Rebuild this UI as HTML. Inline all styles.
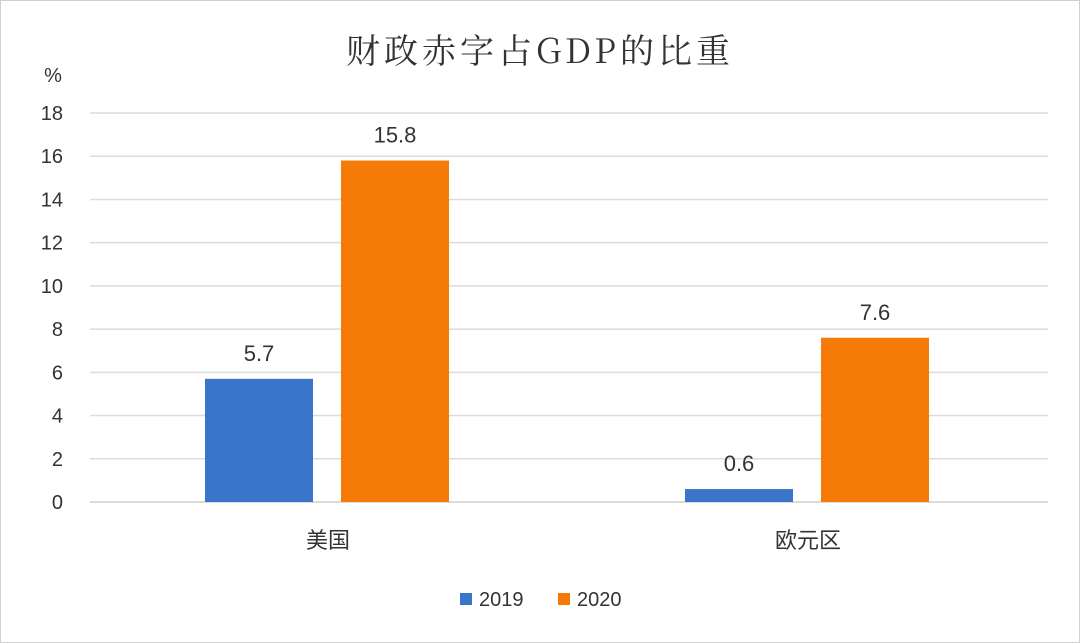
<!DOCTYPE html>
<html><head><meta charset="utf-8"><style>
html,body{margin:0;padding:0;background:#fff;}
svg{display:block;}
text{font-family:"Liberation Sans","Noto Sans CJK SC",sans-serif;}
</style></head><body>
<svg id="chart" width="1080" height="643">
<rect x="0.5" y="0.5" width="1079" height="642" fill="#fff" stroke="#d0d0d0"/>
<text x="540" y="63" text-anchor="middle" font-size="34" fill="#333" letter-spacing="4" style="font-family:'Noto Serif CJK SC',serif">财政赤字占GDP的比重</text>
<text x="53" y="82" text-anchor="middle" font-size="20" fill="#333">%</text>
<g id="grid"></g><g id="bars"></g><g id="labels"></g>
<g>
<rect x="460" y="593" width="12" height="12" fill="#3a75c9"/>
<text x="479" y="606" font-size="20" fill="#333">2019</text>
<rect x="558" y="593" width="12" height="12" fill="#f47b08"/>
<text x="577" y="606" font-size="20" fill="#333">2020</text>
</g>
</svg>
<script>
const categories=["美国","欧元区"];
const series2019=[5.7,0.6];
const series2020=[15.8,7.6];
const yTicks=[0,2,4,6,8,10,12,14,16,18];
const NS="http://www.w3.org/2000/svg";
const left=88,right=1048,y0=502,y18=113;
const y=v=>y0-(v/18)*(y0-y18);
const bandW=(right-left)/categories.length;
const cx=i=>left+bandW*(i+0.5);
function mk(tag,attrs,parent,txt){const e=document.createElementNS(NS,tag);for(const k in attrs)e.setAttribute(k,attrs[k]);if(txt!==undefined)e.textContent=txt;document.getElementById(parent).appendChild(e);return e;}
yTicks.forEach(t=>{
 const l=mk('line',{x1:90,x2:right,y1:y(t),y2:y(t),stroke:t===0?'#cfcfcf':'#dcdcdc','stroke-width':1.5},'grid');
 
 
 const tx=mk('text',{x:63,y:y(t)+7,'text-anchor':'end','font-size':20,fill:'#333'},'grid',t);
 
 
});
const bw=108;
categories.forEach((c,i)=>{
 [[series2019,'#3a75c9',-123,'2019'],[series2020,'#f47b08',13,'2020']].forEach(([s,col,off,yr])=>{
  const x=cx(i)+off,v=s[i];
  const r=mk('rect',{x:x,y:y(v),width:bw,height:y0-y(v),fill:col},'bars');
  
  
  const t=mk('text',{x:x+bw/2,y:y(v)-18,'text-anchor':'middle','font-size':22,fill:'#333'},'labels',v.toFixed(1));
  
  
 });
 const ct=mk('text',{x:cx(i),y:548,'text-anchor':'middle','font-size':22,fill:'#333'},'labels',c);
 
 
});
</script>
</body></html>
